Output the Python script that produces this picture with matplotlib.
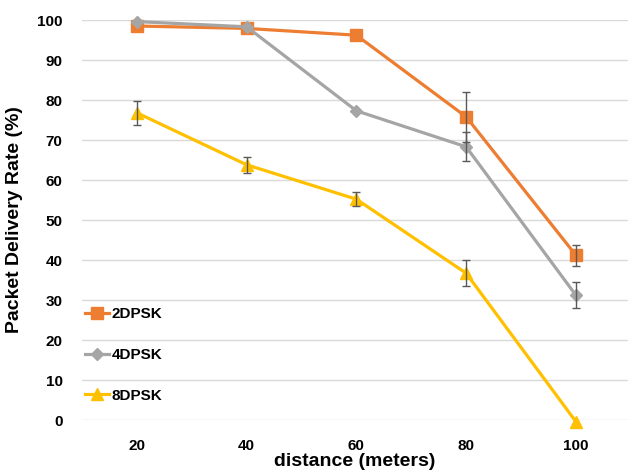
import matplotlib
matplotlib.use("Agg")
import matplotlib.pyplot as plt

distance = [20, 40, 60, 80, 100]
dpsk2 = [98.5, 97.9, 96.2, 75.8, 41.2]
dpsk2_err = [0.0, 0.0, 0.0, 6.2, 2.6]
dpsk4 = [99.6, 98.3, 77.3, 68.3, 31.2]
dpsk4_err = [0.0, 0.0, 0.0, 3.6, 3.2]
dpsk8 = [76.8, 63.8, 55.2, 36.7, -0.4]
dpsk8_err = [3.0, 2.0, 1.8, 3.2, 0.0]
labels = ["2DPSK", "4DPSK", "8DPSK"]

plt.rcParams['font.family'] = ['Liberation Sans', 'DejaVu Sans']

fig = plt.figure(figsize=(6.28, 4.71), dpi=100)
ax = fig.add_axes([82/628, 1-420/471, 546/628, 400/471])

series = [
    (dpsk2, dpsk2_err, '#ED7D31', 's', 8),
    (dpsk4, dpsk4_err, '#A5A5A5', 'D', 6),
    (dpsk8, dpsk8_err, '#FFC000', '^', 8),
]
for (vals, err, col, mk, ms), lab in zip(series, labels):
    ax.plot(distance, vals, color=col, lw=2.3, marker=mk, markersize=ms,
            label=lab, clip_on=False, zorder=3)
    xs = [d for d, e in zip(distance, err) if e > 0]
    ys = [v for v, e in zip(vals, err) if e > 0]
    es = [e for e in err if e > 0]
    ax.errorbar(xs, ys, yerr=es, fmt='none', ecolor='#595959',
                elinewidth=1.0, capsize=3, capthick=1.0, zorder=4, clip_on=False)

ax.set_xlim(10, 109.5)
ax.set_ylim(0, 100)
ax.set_xticks(distance)
ax.set_yticks(range(0, 101, 10))
ax.tick_params(length=0, labelsize=11)
ax.tick_params(axis='y', pad=14)
ax.tick_params(axis='x', pad=14)
for t in ax.get_xticklabels() + ax.get_yticklabels():
    t.set_fontweight('bold')
ax.grid(axis='y', color='#d9d9d9', lw=1.0, zorder=0)
for s in ax.spines.values():
    s.set_visible(False)

ax.set_xlabel('distance (meters)', fontsize=14, fontweight='bold', labelpad=0)
ax.set_ylabel('Packet Delivery Rate (%)', fontsize=14, fontweight='bold', labelpad=10)

leg = ax.legend(loc='lower left', bbox_to_anchor=(-0.012, 0.02), frameon=False,
                prop={'weight': 'bold', 'size': 11}, handlelength=1.6,
                handletextpad=0.15, labelspacing=1.75, borderaxespad=0.2)

fig.savefig('out.png', dpi=100)
